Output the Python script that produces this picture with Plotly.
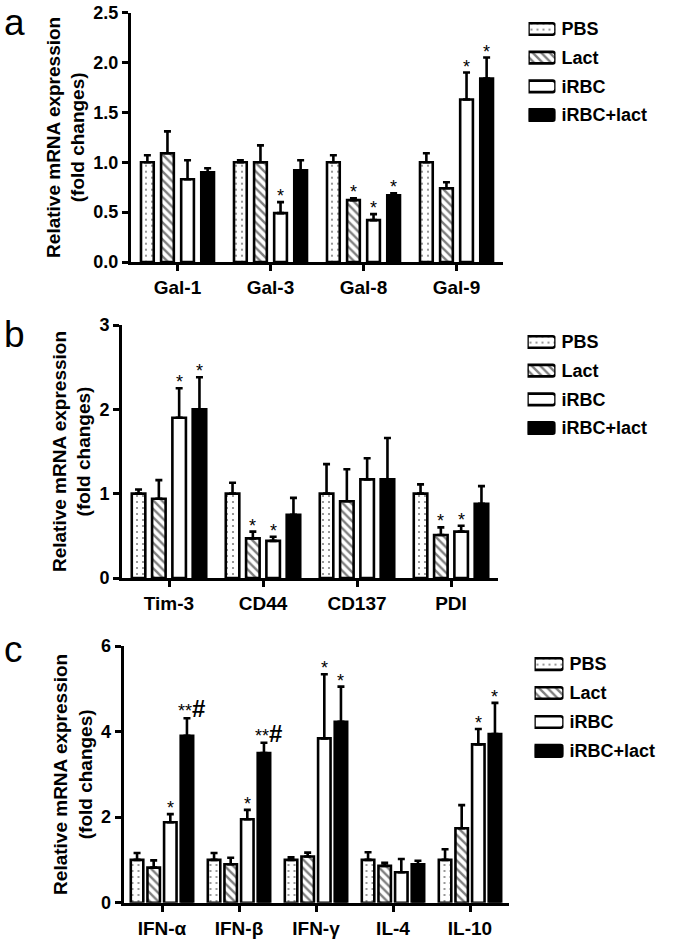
import plotly.graph_objects as go

W, H = 675, 942

groups = ["PBS", "Lact", "iRBC", "iRBC+lact"]
legend_key = [1, 1, 1, 1]  # full-width legend swatches

# ---- Panel a ----
a_cats = ["Gal-1", "Gal-3", "Gal-8", "Gal-9"]
a_pbs = [1.00, 1.00, 1.00, 1.00]
a_pbs_err = [0.07, 0.02, 0.07, 0.09]
a_lact = [1.09, 1.00, 0.62, 0.74]
a_lact_err = [0.22, 0.17, 0.02, 0.06]
a_irbc = [0.83, 0.49, 0.42, 1.63]
a_irbc_err = [0.19, 0.11, 0.06, 0.27]
a_irbcl = [0.90, 0.92, 0.67, 1.84]
a_irbcl_err = [0.04, 0.10, 0.02, 0.21]
a_stars = [["", "", "", ""], ["", "", "*", ""], ["", "*", "*", "*"], ["", "", "*", "*"]]

# ---- Panel b ----
b_cats = ["Tim-3", "CD44", "CD137", "PDI"]
b_pbs = [1.00, 1.00, 1.00, 1.00]
b_pbs_err = [0.05, 0.13, 0.35, 0.11]
b_lact = [0.94, 0.47, 0.91, 0.51]
b_lact_err = [0.22, 0.08, 0.38, 0.09]
b_irbc = [1.90, 0.44, 1.17, 0.55]
b_irbc_err = [0.35, 0.05, 0.25, 0.07]
b_irbcl = [2.00, 0.75, 1.17, 0.88]
b_irbcl_err = [0.38, 0.20, 0.49, 0.21]
b_stars = [["", "", "", ""], ["", "*", "", "*"], ["*", "*", "", "*"], ["*", "", "", ""]]

# ---- Panel c ----
c_cats = ["IFN-α", "IFN-β", "IFN-γ", "IL-4", "IL-10"]
c_pbs = [1.00, 1.00, 1.00, 1.00, 1.00]
c_pbs_err = [0.16, 0.16, 0.06, 0.18, 0.25]
c_lact = [0.82, 0.90, 1.08, 0.86, 1.74]
c_lact_err = [0.17, 0.15, 0.09, 0.07, 0.54]
c_irbc = [1.88, 1.95, 3.84, 0.71, 3.70]
c_irbc_err = [0.19, 0.22, 1.50, 0.31, 0.36]
c_irbcl = [3.90, 3.50, 4.23, 0.90, 3.94]
c_irbcl_err = [0.41, 0.24, 0.82, 0.08, 0.73]
c_stars = [["", "", "", "", ""], ["", "", "", "", ""], ["*", "*", "*", "", "*"], ["**#", "**#", "*", "", "*"]]

FONT = "Liberation Sans, Arial, sans-serif"
styles = [
    dict(color="white", pattern=dict(shape=".", fgcolor="black", bgcolor="white", size=6, solidity=0.1)),
    dict(color="white", pattern=dict(shape="\\", fgcolor="black", bgcolor="white", size=6, solidity=0.4)),
    dict(color="white", pattern=None),
    dict(color="black", pattern=None),
]

fig = go.Figure()

panels = [
    dict(cats=a_cats, vals=[a_pbs, a_lact, a_irbc, a_irbcl],
         errs=[a_pbs_err, a_lact_err, a_irbc_err, a_irbcl_err], stars=a_stars,
         xa="x", ya="y", lx="x4", ly="y4", width=0.137),
    dict(cats=b_cats, vals=[b_pbs, b_lact, b_irbc, b_irbcl],
         errs=[b_pbs_err, b_lact_err, b_irbc_err, b_irbcl_err], stars=b_stars,
         xa="x2", ya="y2", lx="x5", ly="y5", width=0.144),
    dict(cats=c_cats, vals=[c_pbs, c_lact, c_irbc, c_irbcl],
         errs=[c_pbs_err, c_lact_err, c_irbc_err, c_irbcl_err], stars=c_stars,
         xa="x3", ya="y3", lx="x6", ly="y6", width=0.162),
]
slot = 0.216


def star_text(s):
    if "#" in s:
        return s.replace("#", "<b><span style='font-size:24px'>#</span></b>")
    return s


annotations = []
for p in panels:
    for gi, g in enumerate(groups):
        st = styles[gi]
        fig.add_trace(go.Bar(
            x=p["cats"], y=p["vals"][gi], name=g, showlegend=False,
            xaxis=p["xa"], yaxis=p["ya"],
            width=p["width"], offset=(gi - 1.5) * slot - p["width"] / 2,
            marker=dict(color=st["color"], pattern=st["pattern"],
                        line=dict(color="black", width=2.6)),
            error_y=dict(type="data", array=p["errs"][gi], arrayminus=[0] * len(p["cats"]),
                         symmetric=False, color="black", thickness=2.6, width=3.5),
        ))
        for ci, s in enumerate(p["stars"][gi]):
            if s:
                annotations.append(dict(
                    x=ci + (gi - 1.5) * slot + (0.06 if "#" in s else 0),
                    y=p["vals"][gi][ci] + p["errs"][gi][ci],
                    xref=p["xa"], yref=p["ya"], text=star_text(s), showarrow=False,
                    yanchor="bottom", xanchor="center", yshift=-6,
                    font=dict(family=FONT, size=18, color="black"),
                ))
    # legend swatches drawn as a small horizontal bar chart
    for gi, g in enumerate(groups):
        st = styles[gi]
        fig.add_trace(go.Bar(
            y=[g], x=[legend_key[gi]], orientation="h", showlegend=False, hoverinfo="skip",
            xaxis=p["lx"], yaxis=p["ly"], width=0.4,
            marker=dict(color=st["color"], pattern=st["pattern"], cornerradius=3,
                        line=dict(color="black", width=2.6)),
        ))

# panel letters
for letter, ypx in [("a", 0), ("b", 312), ("c", 627)]:
    annotations.append(dict(x=2 / W, y=1 - ypx / H, xref="paper", yref="paper", text=letter,
                            showarrow=False, xanchor="left", yanchor="top",
                            font=dict(family=FONT, size=37, color="black")))

ytitle = "Relative mRNA expression<br>(fold changes)"
axis_common = dict(showline=True, linewidth=3, linecolor="black", ticks="outside",
                   ticklen=6, tickwidth=3, tickcolor="black", showgrid=False, zeroline=False,
                   automargin=False)
xtick = dict(tickfont=dict(family=FONT, size=19, color="black", weight="bold"))
ytick = dict(tickfont=dict(family=FONT, size=18, color="black", weight="bold"))
ttl = dict(text=ytitle, standoff=4, font=dict(family=FONT, size=19, weight="bold", color="black"))


def ydom(top_px, bot_px):
    return [1 - bot_px / H, 1 - top_px / H]


leg_x = dict(range=[0, 1], showline=False, showticklabels=False, ticks="", showgrid=False,
             zeroline=False, fixedrange=True, automargin=False)
leg_y = dict(autorange="reversed", side="right", showline=False, ticks="", showgrid=False,
             zeroline=False, ticklabelstandoff=5, fixedrange=True, automargin=False,
             tickfont=dict(family=FONT, size=18, color="black", weight="bold"))

fig.update_layout(
    width=W, height=H, autosize=False, margin=dict(l=0, r=0, t=0, b=0, pad=0, autoexpand=False),
    paper_bgcolor="white", plot_bgcolor="rgba(0,0,0,0)",
    barmode="overlay", annotations=annotations, showlegend=False,
    font=dict(family=FONT, color="black"),
    xaxis=dict(domain=[131 / W, 503 / W], anchor="y", **axis_common, **xtick),
    yaxis=dict(domain=ydom(12.7, 262), anchor="x", range=[0, 2.5], dtick=0.5, tickformat=".1f",
               title=ttl, **axis_common, **ytick),
    xaxis2=dict(domain=[122 / W, 498 / W], anchor="y2", **axis_common, **xtick),
    yaxis2=dict(domain=ydom(325, 578), anchor="x2", range=[0, 3], dtick=1,
                title=ttl, **axis_common, **ytick),
    xaxis3=dict(domain=[123.5 / W, 508.5 / W], anchor="y3", **axis_common, **xtick),
    yaxis3=dict(domain=ydom(646, 902.7), anchor="x3", range=[0, 6], dtick=2,
                title=ttl, **axis_common, **ytick),
    # legend helper axes
    xaxis4=dict(domain=[528.5 / W, 555.5 / W], anchor="y4", **leg_x),
    yaxis4=dict(domain=ydom(14.6, 129.4), anchor="x4", **leg_y),
    xaxis5=dict(domain=[527.5 / W, 555.5 / W], anchor="y5", **leg_x),
    yaxis5=dict(domain=ydom(327.6, 442.4), anchor="x5", **leg_y),
    xaxis6=dict(domain=[534.5 / W, 563.5 / W], anchor="y6", **leg_x),
    yaxis6=dict(domain=ydom(649.6, 765.4), anchor="x6", **leg_y),
)

fig.write_html("out.html", config={"displayModeBar": False},
               post_script="document.body.style.margin='0px';")
